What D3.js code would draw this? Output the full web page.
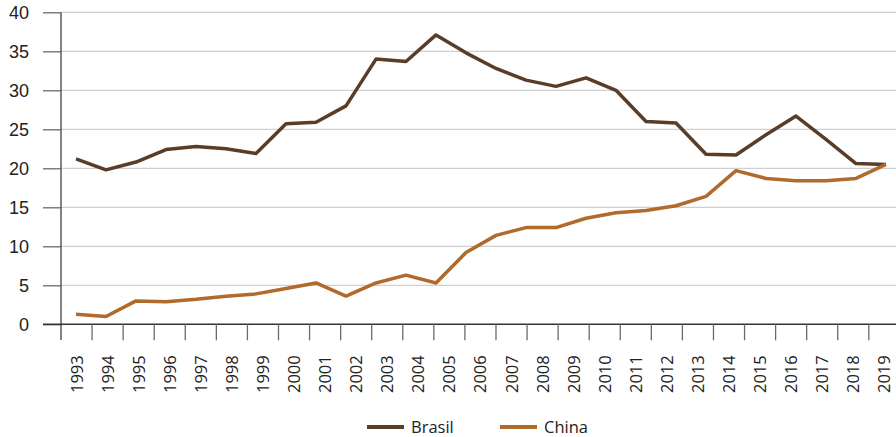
<!DOCTYPE html>
<html>
<head>
<meta charset="utf-8">
<script src="https://cdn.jsdelivr.net/npm/d3@7"></script>
<style>
	body { margin: 0; background: #fff; }
	svg { display: block; font-family: "Open Sans", sans-serif; }
</style>
</head>
<body>
<svg id="chart"></svg>
<script>
	// axis labels (27 years)
	var years = ["1993", "1994", "1995", "1996", "1997", "1998", "1999", "2000", "2001", "2002",
		"2003", "2004", "2005", "2006", "2007", "2008", "2009", "2010", "2011", "2012",
		"2013", "2014", "2015", "2016", "2017", "2018", "2019"];

	var yTicks = [0, 5, 10, 15, 20, 25, 30, 35, 40];

	// the source plots 28 points under the 27 labels, read as drawn
	var brasil = [21.2, 19.8, 20.8, 22.4, 22.8, 22.5, 21.9, 25.7, 25.9, 28.0,
		34.0, 33.7, 37.1, 34.8, 32.8, 31.3, 30.5, 31.6, 30.0, 26.0,
		25.8, 21.8, 21.7, 24.3, 26.7, 23.7, 20.6, 20.5];

	var china = [1.3, 1.0, 3.0, 2.9, 3.2, 3.6, 3.9, 4.6, 5.3, 3.6,
		5.3, 6.3, 5.3, 9.2, 11.4, 12.4, 12.4, 13.6, 14.3, 14.6,
		15.2, 16.4, 19.7, 18.7, 18.4, 18.4, 18.7, 20.5];

	var seriesNames = ["Brasil", "China"];
	var seriesColors = ["#5b3d27", "#b06a2b"];

	var width = 896, height = 437;
	var svg = d3.select("#chart").attr("width", width).attr("height", height);

	var y = d3.scaleLinear().domain([0, 40]).range([324.3, 12.3]);
	var xBand = d3.scaleBand().domain(years).range([61, 61 + years.length * 31.07]);
	var xPt = d3.scalePoint().domain(d3.range(brasil.length)).range([76, 886]);

	// GRIDLINES
	svg.append("g")
		.selectAll("line")
		.data(yTicks.filter(function(d) { return d > 0; }))
		.enter().append("line")
		.attr("x1", 61).attr("x2", width)
		.attr("y1", function(d) { return y(d); })
		.attr("y2", function(d) { return y(d); })
		.style("stroke", "#cfcfcf")
		.style("stroke-width", 1.3);

	// Y AXIS
	var yAxis = svg.append("g")
		.attr("transform", "translate(61,0)")
		.call(d3.axisLeft(y).tickValues(yTicks).tickSize(18).tickPadding(14));
	yAxis.select(".domain").remove();
	yAxis.selectAll(".tick line").style("stroke", "#6a6a6a").style("stroke-width", 1.3);
	yAxis.selectAll("text")
		.style("font-size", "18px")
		.style("fill", "#222")
		.attr("font-family", null);

	svg.append("line")
		.attr("x1", 61).attr("x2", 61)
		.attr("y1", y(40)).attr("y2", 340)
		.style("stroke", "#5a5a5a")
		.style("stroke-width", 1.5);

	// X AXIS
	var xAxis = svg.append("g")
		.attr("transform", "translate(0," + y(0) + ")");
	xAxis.append("line")
		.attr("x1", 43).attr("x2", width)
		.style("stroke", "#333")
		.style("stroke-width", 1.5);
	xAxis.selectAll(".xtick")
		.data(years.slice(1))
		.enter().append("line")
		.attr("class", "xtick")
		.attr("x1", function(d) { return xBand(d); })
		.attr("x2", function(d) { return xBand(d); })
		.attr("y1", 0).attr("y2", 16)
		.style("stroke", "#6a6a6a")
		.style("stroke-width", 1.3);
	xAxis.selectAll(".xlabel")
		.data(years)
		.enter().append("text")
		.attr("class", "xlabel")
		.attr("transform", function(d) {
			return "translate(" + (xBand(d) + xBand.bandwidth() / 2 + 6) + ",31) rotate(-90)";
		})
		.attr("text-anchor", "end")
		.style("font-size", "16.5px")
		.style("fill", "#222")
		.text(function(d) { return d; });

	// LINES
	var line = d3.line()
		.x(function(d, i) { return xPt(i); })
		.y(function(d) { return y(d); });

	[brasil, china].forEach(function(values, k) {
		svg.append("path")
			.datum(values)
			.attr("d", line)
			.style("fill", "none")
			.style("stroke", seriesColors[k])
			.style("stroke-width", 3.5)
			.style("stroke-linejoin", "round");
	});

	// LEGEND
	var legendX = [367, 500];
	seriesNames.forEach(function(name, k) {
		var g = svg.append("g").attr("transform", "translate(" + legendX[k] + ",427)");
		g.append("line")
			.attr("x1", 0).attr("x2", 37)
			.style("stroke", seriesColors[k])
			.style("stroke-width", 4);
		g.append("text")
			.attr("x", 44).attr("y", 5.5)
			.style("font-size", "16.5px")
			.style("fill", "#222")
			.text(name);
	});
</script>
</body>
</html>
